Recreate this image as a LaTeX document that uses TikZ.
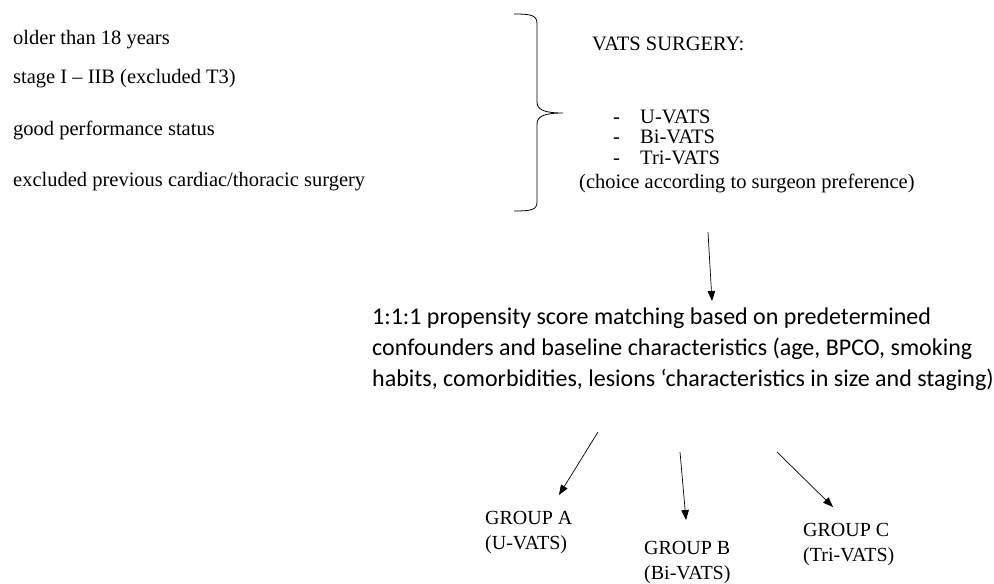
\documentclass[tikz,border=0pt]{standalone}
\usepackage{fontspec}
\setmainfont{Liberation Serif}
\newfontfamily\calibri{Carlito}
\usetikzlibrary{arrows.meta}
\begin{document}
\begin{tikzpicture}[x=1pt,y=-1pt,
  serif/.style={inner sep=0pt, anchor=base west, font=\fontsize{20.5}{25}\selectfont},
  grouptext/.style={inner sep=0pt, anchor=north west, align=left, font=\fontsize{20}{25}\selectfont},
  sanstext/.style={inner sep=0pt, anchor=north west, align=left, font=\calibri\fontsize{24}{31}\selectfont},
  arr/.style={-{Triangle[length=10pt,width=7.5pt]}, line width=0.7pt},
  brace/.style={line width=0.8pt}]
\useasboundingbox (0,0) rectangle (994,584);
% inclusion criteria
\node[serif] (c1) at (13,44) {older than 18 years};
\node[serif] (c2) at (13,83) {stage I -- IIB (excluded T3)};
\node[serif] (c3) at (13,135) {good performance status};
\node[serif] (c4) at (13,186) {excluded previous cardiac/thoracic surgery};
% brace
\draw[brace] (514,14) .. controls (531,14) and (537,15) .. (537,24) -- (537,102)
  .. controls (537,110) and (545,113) .. (563,113)
  .. controls (545,113) and (537,116) .. (537,124) -- (537,202)
  .. controls (537,210) and (531,211) .. (514,211);
% VATS
\node[serif] (vats) at (592,50) {VATS SURGERY:};
\node[serif] (d1) at (613,123) {-};
\node[serif] (u) at (640,123) {U-VATS};
\node[serif] (d2) at (613,143.5) {-};
\node[serif] (bi) at (640,143.5) {Bi-VATS};
\node[serif] (d3) at (613,164) {-};
\node[serif] (tri) at (640,164) {Tri-VATS};
\node[serif] (choice) at (579,188) {(choice according to surgeon preference)};
% matching
\node[sanstext] (psm) at (372,308) {1:1:1 propensity score matching based on predetermined\\
confounders and baseline characteristics (age, BPCO, smoking\\
habits, comorbidities, lesions ‘characteristics in size and staging)};
% groups
\node[grouptext] (ga) at (485,511) {GROUP A\\(U-VATS)};
\node[grouptext] (gb) at (644,541) {GROUP B\\(Bi-VATS)};
\node[grouptext] (gc) at (803,523) {GROUP C\\(Tri-VATS)};
% arrows
\coordinate (a1s) at (708,232);
\coordinate (a1e) at (712,301);
\coordinate (aas) at (598,432);
\coordinate (aae) at (559,495);
\coordinate (abs) at (680,452);
\coordinate (abe) at (686,520);
\coordinate (acs) at (777,452);
\coordinate (ace) at (833,507);
\draw[arr] (a1s) -- (a1e);
\draw[arr] (aas) -- (aae);
\draw[arr] (abs) -- (abe);
\draw[arr] (acs) -- (ace);
\end{tikzpicture}
\end{document}
